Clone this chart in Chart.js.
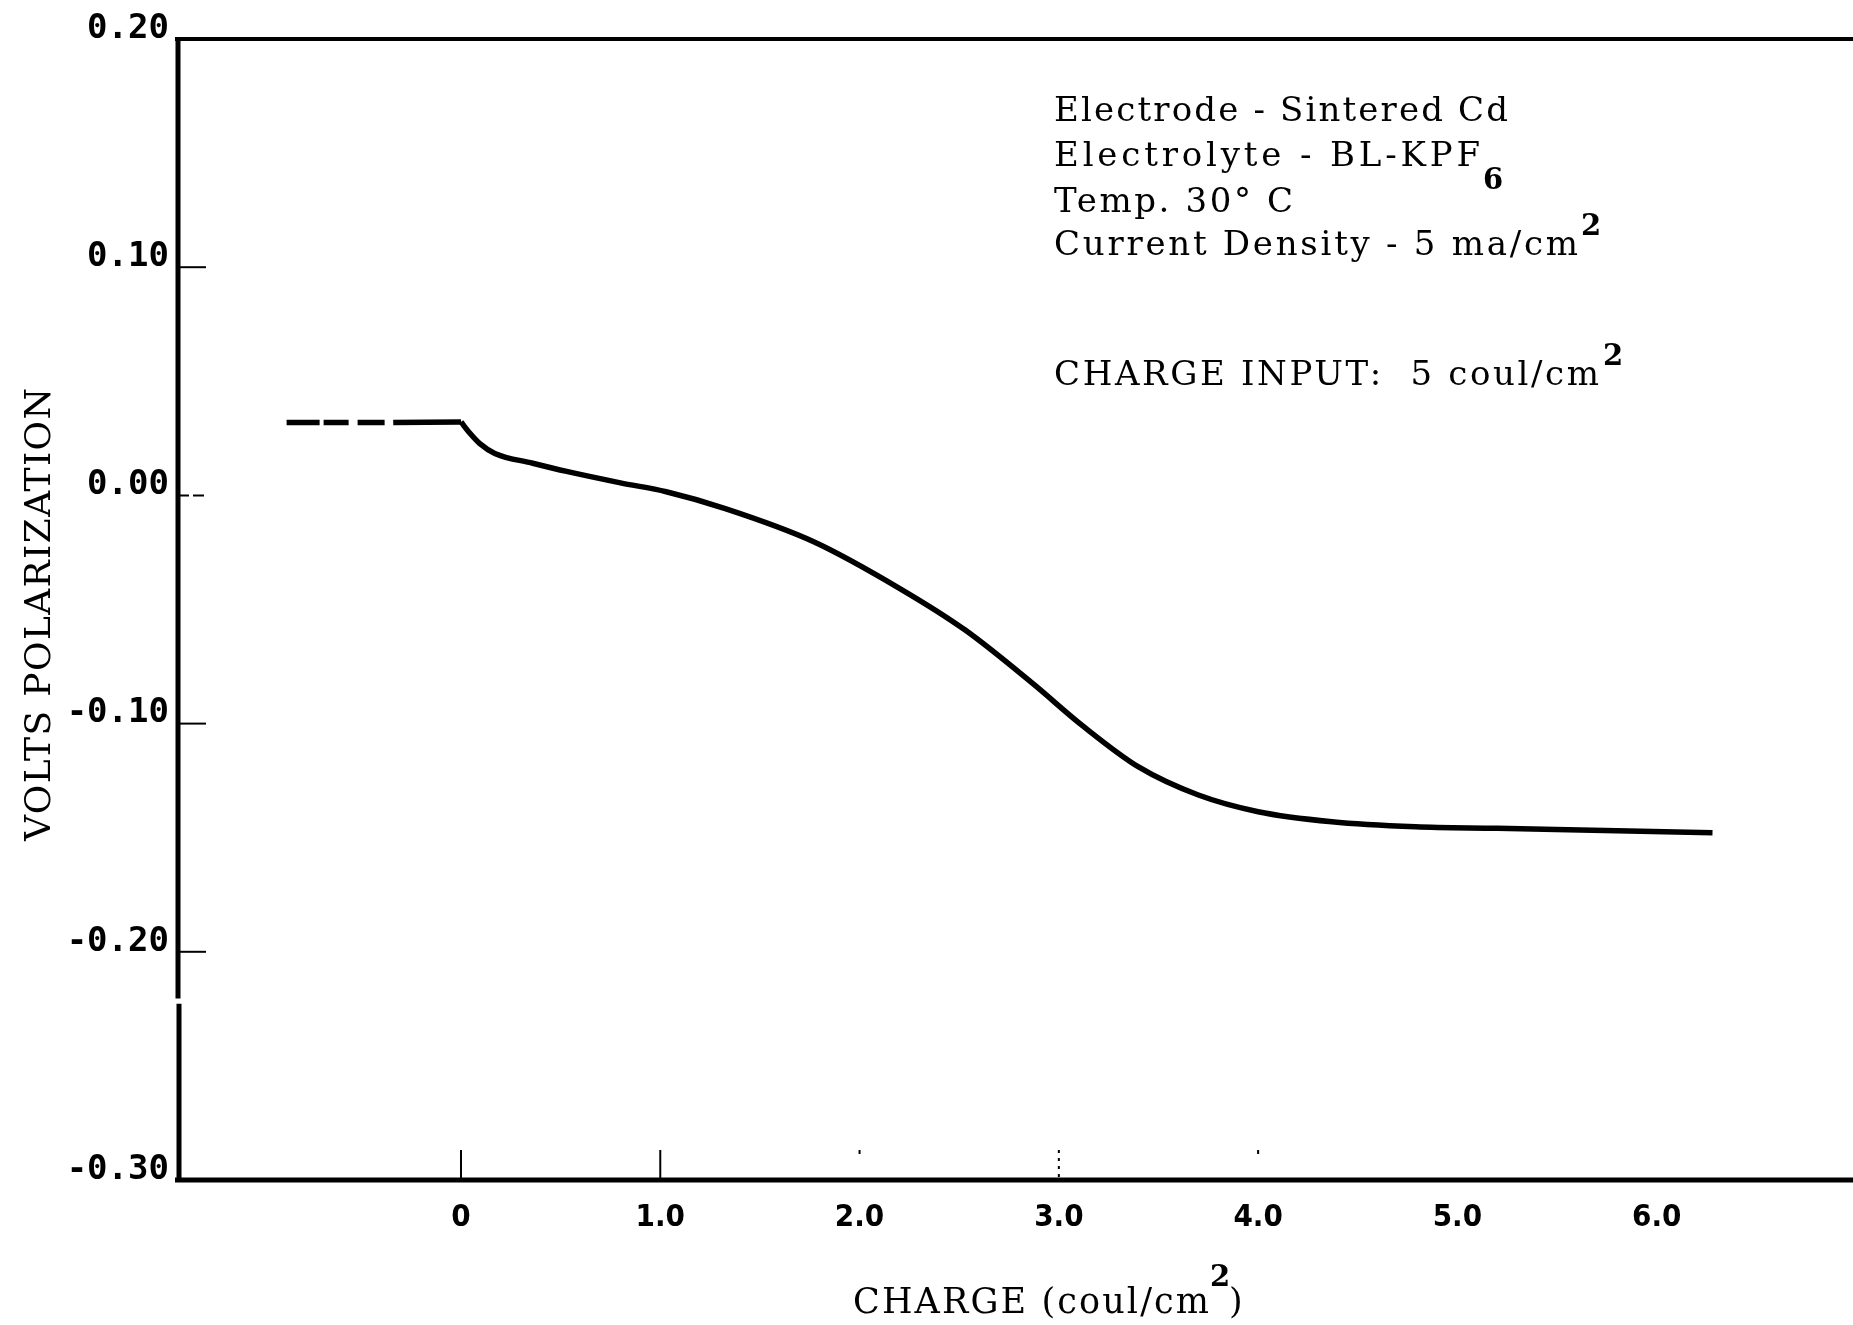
<!DOCTYPE html>
<html>
<head>
<meta charset="utf-8">
<title>Polarization - Sintered Cd</title>
<script src="https://cdn.jsdelivr.net/npm/chart.js@4.4.1/dist/chart.umd.min.js"></script>
<style>
  html, body { margin: 0; padding: 0; background: #fff; }
  canvas { display: block; }
</style>
</head>
<body>
<canvas id="polChart" width="1853" height="1325"></canvas>
<script>
// open-circuit lead-in, drawn dashed, then the flat run up to charge = 0
const leadCharge = [-0.875, -0.34];
const leadVolts = [0.032, 0.032];
const plateauCharge = [-0.34, 0.00];
const plateauVolts = [0.032, 0.0322];

// polarization (V) against charge passed (coul/cm2)
const charge = [0.00, 0.045, 0.093, 0.17, 0.36, 0.53, 0.80, 1.03, 1.33, 1.77, 2.20, 2.53, 2.87, 3.12, 3.40, 3.70, 4.00, 4.37, 4.79, 5.20, 5.80, 6.28];
const volts = [0.0322, 0.0272, 0.0228, 0.0184, 0.0141, 0.0105, 0.0055, 0.0016, -0.0059, -0.0203, -0.0407, -0.059, -0.0825, -0.101, -0.119, -0.1313, -0.1386, -0.143, -0.1452, -0.1459, -0.147, -0.1478];

const xTicks = [0, 1, 2, 3, 4, 5, 6];
const xTickLabels = ['0', '1.0', '2.0', '3.0', '4.0', '5.0', '6.0'];
const yTicks = [0.20, 0.10, 0.00, -0.10, -0.20, -0.30];
const yTickLabels = ['0.20', '0.10', '0.00', '-0.10', '-0.20', '-0.30'];

function line(ctx, x1, y1, x2, y2) {
  ctx.beginPath();
  ctx.moveTo(x1, y1);
  ctx.lineTo(x2, y2);
  ctx.stroke();
}

// draw text stretched out to a given width (typewriter spacing)
function spaced(ctx, str, x, y, width) {
  ctx.letterSpacing = '0px';
  const natural = ctx.measureText(str).width;
  const extra = str.length > 1 ? (width - natural) / (str.length - 1) : 0;
  ctx.letterSpacing = extra + 'px';
  ctx.fillText(str, x, y);
  ctx.letterSpacing = '0px';
}

const frame = {
  id: 'frame',
  afterDraw(chart) {
    const {ctx, chartArea: a, scales: {x, y}} = chart;
    ctx.save();
    ctx.strokeStyle = '#000';
    ctx.lineCap = 'butt';

    ctx.lineWidth = 4;
    line(ctx, a.left - 3, a.top, a.right, a.top);
    ctx.lineWidth = 5;
    line(ctx, a.left - 3, a.bottom, a.right, a.bottom);

    // left axis has a small break just under -0.20
    const gapTop = y.getPixelForValue(-0.2205);
    const gapBot = y.getPixelForValue(-0.2228);
    line(ctx, a.left, a.top - 2, a.left, gapTop);
    line(ctx, a.left + 1, gapBot, a.left + 1, a.bottom + 2);

    // inward tick marks
    ctx.lineWidth = 2;
    yTicks.slice(1, -1).forEach(v => {
      const py = y.getPixelForValue(v);
      ctx.setLineDash(v === 0 ? [11, 4] : []);
      line(ctx, a.left, py, a.left + 28, py);
    });
    ctx.setLineDash([]);
    const top = a.bottom - 30;
    [0, 1].forEach(q => {
      const px = x.getPixelForValue(q);
      line(ctx, px, top, px, a.bottom);
    });
    ctx.setLineDash([3, 5]);
    line(ctx, x.getPixelForValue(3), top, x.getPixelForValue(3), a.bottom);
    ctx.setLineDash([]);
    [2, 4].forEach(q => {
      const px = x.getPixelForValue(q);
      line(ctx, px, top, px, top + 4);
    });
    ctx.restore();
  }
};

const notes = {
  id: 'notes',
  afterDraw(chart) {
    const ctx = chart.ctx;
    ctx.save();
    ctx.fillStyle = '#000';
    ctx.textAlign = 'left';
    ctx.textBaseline = 'alphabetic';

    ctx.font = '34px "DejaVu Serif"';
    spaced(ctx, 'Electrode - Sintered Cd', 1054, 121, 454);
    spaced(ctx, 'Electrolyte - BL-KPF', 1054, 166, 426);
    spaced(ctx, 'Temp. 30° C', 1054, 212, 239);
    spaced(ctx, 'Current Density - 5 ma/cm', 1054, 255, 524);
    spaced(ctx, 'CHARGE INPUT:  5 coul/cm', 1054, 385, 545);
    ctx.font = 'bold 29px "DejaVu Serif"';
    ctx.fillText('6', 1483, 189);
    ctx.fillText('2', 1581, 235);
    ctx.fillText('2', 1603, 365);

    // axis titles
    ctx.font = '35px "DejaVu Serif"';
    spaced(ctx, 'CHARGE (coul/cm', 853, 1313, 356);
    ctx.fillText(')', 1229, 1313);
    ctx.font = 'bold 29px "DejaVu Serif"';
    ctx.fillText('2', 1210, 1286);

    ctx.font = '36px "DejaVu Serif"';
    ctx.translate(50, 841);
    ctx.rotate(-Math.PI / 2);
    spaced(ctx, 'VOLTS POLARIZATION', 0, 0, 453);
    ctx.restore();
  }
};

const lineStyle = {
  borderColor: '#000',
  borderWidth: 5.5,
  pointRadius: 0,
  fill: false
};

new Chart(document.getElementById('polChart'), {
  type: 'line',
  data: {
    datasets: [
      {
        ...lineStyle,
        data: leadCharge.map((q, i) => ({x: q, y: leadVolts[i]})),
        borderDash: [33, 4, 25, 9, 27, 9]
      },
      {
        ...lineStyle,
        data: plateauCharge.map((q, i) => ({x: q, y: plateauVolts[i]}))
      },
      {
        ...lineStyle,
        data: charge.map((q, i) => ({x: q, y: volts[i]})),
        cubicInterpolationMode: 'monotone'
      }
    ]
  },
  options: {
    responsive: false,
    animation: false,
    devicePixelRatio: 1,
    layout: { padding: { top: 39, left: 0, right: 0, bottom: 0 } },
    plugins: {
      legend: { display: false },
      tooltip: { enabled: false }
    },
    scales: {
      x: {
        type: 'linear',
        min: -1.42,
        max: 6.985,
        grid: { display: false, drawTicks: false },
        border: { display: false },
        afterBuildTicks: s => { s.ticks = xTicks.map(v => ({value: v})); },
        afterFit: s => { s.height = 145; },
        ticks: {
          color: '#000',
          padding: 19,
          autoSkip: false,
          maxRotation: 0,
          font: { family: '"DejaVu Sans Condensed", "DejaVu Sans"', size: 31, weight: 'bold' },
          callback: (v, i) => xTickLabels[i]
        }
      },
      y: {
        min: -0.30,
        max: 0.20,
        grid: { display: false, drawTicks: false },
        border: { display: false },
        afterBuildTicks: s => { s.ticks = yTicks.map(v => ({value: v})); },
        afterFit: s => { s.width = 178; },
        ticks: {
          color: '#000',
          padding: 9,
          labelOffset: -10,
          autoSkip: false,
          font: { family: '"DejaVu Sans Mono"', size: 34, weight: 'bold' },
          callback: (v, i) => yTickLabels[i]
        }
      }
    }
  },
  plugins: [frame, notes]
});
</script>
</body>
</html>
